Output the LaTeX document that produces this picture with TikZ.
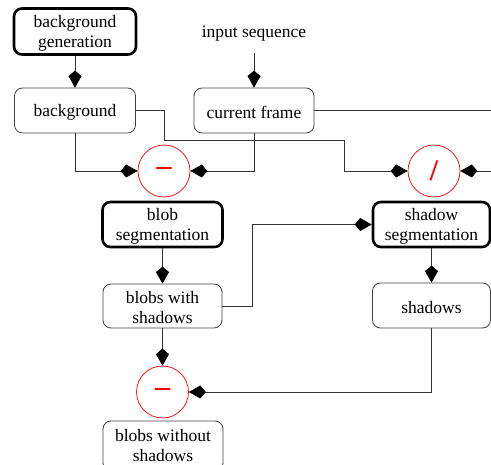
\documentclass[tikz,border=0pt]{standalone}
\usepackage{fontspec}
\setmainfont{Liberation Serif}
\usetikzlibrary{arrows.meta}
\newcommand\tstrut{\rule{0pt}{16pt}}
\begin{document}
\begin{tikzpicture}[x=1pt,y=-1pt,
  every node/.style={font=\fontsize{17.5}{20}\selectfont},
  boxthin/.style={draw=black!75, line width=0.8pt, rounded corners=8pt, minimum width=#1, minimum height=45pt, inner sep=0pt, align=center},
  boxthick/.style={draw=black, line width=2.6pt, rounded corners=8pt, minimum width=#1, minimum height=45pt, inner sep=0pt, align=center},
  opc/.style={circle, draw=red, line width=0.7pt, minimum size=52pt, inner sep=0pt, text=red},
  conn/.style={draw=black!80, line width=0.8pt},
  arr/.style={conn, -{Kite[length=17pt,width=13pt,inset=5.5pt,color=black,fill=black]}}
]
\useasboundingbox (0,0) rectangle (491,465);
\clip (0,0) rectangle (491,465);

\node[boxthick=122pt, minimum height=46pt] (bggen) at (75,31.5) {\tstrut background\\generation};
\node (inseq) at (254,31) {\tstrut input sequence};
\node[boxthin=121pt] (bg) at (75,110.5) {\tstrut background};
\node[boxthin=120pt] (cur) at (254,110.5) {\tstrut current frame};
\node[opc] (m1) at (164,171) {\fontsize{30}{30}\selectfont\bfseries –};
\node[opc] (dv) at (434,171) {\fontsize{30}{30}\selectfont\bfseries /};
\node[boxthick=120pt] (blobseg) at (162.5,224.5) {\tstrut blob\\segmentation};
\node[boxthin=119pt, minimum height=44pt] (bws) at (162.5,306) {\tstrut blobs with\\shadows};
\node[boxthick=117pt] (shseg) at (431.5,224.5) {\tstrut shadow\\segmentation};
\node[boxthin=118pt] (sh) at (431.5,305.5) {\tstrut shadows};
\node[opc] (m3) at (162.5,392) {\fontsize{30}{30}\selectfont\bfseries –};
\node[boxthin=120pt, minimum height=50pt] (bwos) at (163,446) {blobs without\\shadows};

\coordinate (k1) at (164,140);
\coordinate (k2) at (344,140);
\coordinate (k3) at (252,224.5);
\coordinate (re1) at (495,110.5);
\coordinate (re2) at (495,171);

\draw[arr] (bggen) -- (bg);
\draw[arr, shorten <=9pt] (inseq) -- (cur);
\draw[arr] (bg.south) |- (m1.west);
\draw[arr] (cur.south) |- (m1.east);
\draw[arr] (bg.east) -| (k1) -- (k2) |- (dv.west);
\draw[conn] (cur.east) -- (re1);
\draw[arr] (re2) -- (dv.east);
\draw[arr] (blobseg) -- (bws);
\draw[arr] (bws.east) -| (k3) -- (shseg.west);
\draw[arr] (shseg) -- (sh);
\draw[arr] (sh.south) |- (m3.east);
\draw[arr] (bws) -- (m3);
\end{tikzpicture}
\end{document}
